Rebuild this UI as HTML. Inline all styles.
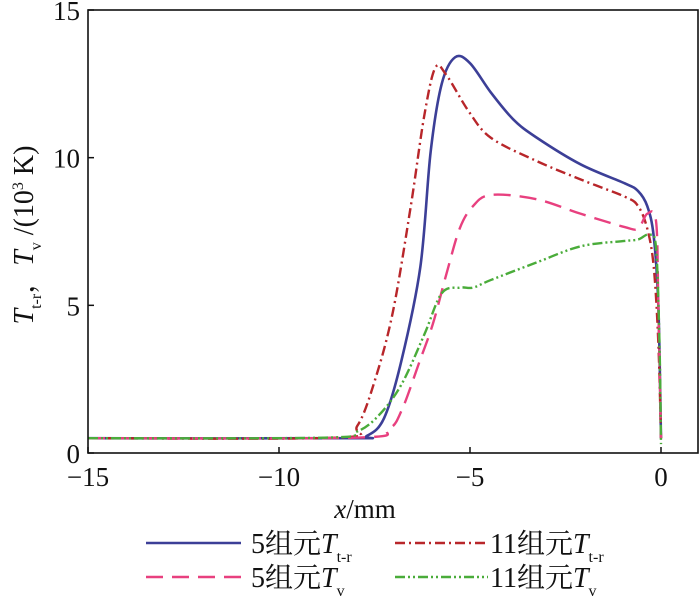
<!DOCTYPE html>
<html><head><meta charset="utf-8"><style>
body{margin:0;background:#fff;}
svg text{font-family:"Liberation Serif","Noto Serif CJK SC",serif;fill:#111;}
</style></head><body>
<svg id="chart" width="700" height="596" viewBox="0 0 700 596">
<g id="plot"></g>
<g id="axes"></g>
<g id="legend"></g>
</svg>
<script>
const xTicks=[-15,-10,-5,0];
const yTicks=[0,5,10,15];
const xTickLabels=["\u221215","\u221210","\u22125","0"];
const yTickLabels=["0","5","10","15"];
const blueX=[-15,-8.2,-7.7,-7.25,-6.8,-6.3,-6.03,-5.74,-5.39,-5.0,-4.45,-3.87,-3.28,-2.1,-0.95,-0.6,-0.36,-0.19,-0.07,0];
const blueY=[0.5,0.5,0.58,1.18,3.1,6.3,10.2,12.5,13.4,13.2,12.2,11.3,10.7,9.77,9.13,8.87,8.36,7.33,5.0,0.5];
const redX=[-15,-8.5,-7.95,-7.49,-7.02,-6.55,-6.2,-5.91,-5.62,-5.03,-4.45,-3.28,-2.1,-0.95,-0.6,-0.36,-0.19,-0.07,0];
const redY=[0.5,0.52,0.92,2.46,4.77,8.36,11.4,13.04,12.8,11.56,10.67,9.9,9.26,8.68,8.36,7.6,6.3,3.74,0.5];
const pinkX=[-15,-8.0,-7.14,-6.79,-6.32,-5.97,-5.62,-5.27,-4.92,-4.45,-3.28,-2.1,-0.95,-0.6,-0.36,-0.13,-0.07,0];
const pinkY=[0.5,0.52,0.8,1.44,3.1,4.38,6.05,7.6,8.36,8.74,8.6,8.1,7.65,7.6,8.1,7.85,5.0,0.5];
const greenX=[-15,-8.8,-7.95,-7.37,-6.79,-6.2,-5.74,-5.27,-4.92,-4.45,-3.28,-2.1,-0.95,-0.6,-0.3,-0.13,-0.04,0];
const greenY=[0.5,0.52,0.73,1.3,2.33,4.0,5.41,5.6,5.6,5.86,6.44,7.0,7.18,7.23,7.4,6.95,3.74,0.3];

const NS="http://www.w3.org/2000/svg";
const L=88,R=698,T=10,B=453;
const xs=v=>661+(v)*(661-88)/15;
const ys=v=>B-(v)*(B-T)/15;
function mk(tag,attrs,parent){const e=document.createElementNS(NS,tag);for(const k in attrs)e.setAttribute(k,attrs[k]);parent.appendChild(e);return e;}
const plot=document.getElementById('plot'),axes=document.getElementById('axes');
function pathD(X,Y){
 const p=X.map((x,i)=>[xs(x),ys(Y[i])]);
 let d="M"+p[0][0]+","+p[0][1];
 for(let i=0;i<p.length-1;i++){
  const p0=p[Math.max(i-1,0)],p1=p[i],p2=p[i+1],p3=p[Math.min(i+2,p.length-1)];
  const c1=[p1[0]+(p2[0]-p0[0])/6,p1[1]+(p2[1]-p0[1])/6];
  const c2=[p2[0]-(p3[0]-p1[0])/6,p2[1]-(p3[1]-p1[1])/6];
  d+=" C"+c1.join(",")+" "+c2.join(",")+" "+p2.join(",");
 }
 return d;
}
const series=[
 {name:'series-5-ttr',X:blueX,Y:blueY,c:'#3c3f97',da:'',w:2.6},
 {name:'series-11-ttr',X:redX,Y:redY,c:'#b8262a',da:'10,4,2,4',w:2.4},
 {name:'series-5-tv',X:pinkX,Y:pinkY,c:'#e8407f',da:'17,9',w:2.4},
 {name:'series-11-tv',X:greenX,Y:greenY,c:'#4aac3a',da:'10,3,2,3,2,3',w:2.4}
];
series.forEach(s=>{
 const e=mk('path',{d:pathD(s.X,s.Y),fill:'none',stroke:s.c,'stroke-width':s.w,'stroke-dasharray':s.da},plot);
 
 
});
const frame=mk('rect',{x:L,y:T,width:R-L,height:B-T,fill:'none',stroke:'#111','stroke-width':1.6},axes);


xTicks.forEach((v,i)=>{
 mk('line',{x1:xs(v),x2:xs(v),y1:B,y2:B-6,stroke:'#111','stroke-width':1.5},axes);
 const t=mk('text',{x:xs(v),y:B+33,'font-size':27,'text-anchor':'middle'},axes);t.textContent=xTickLabels[i];
 
 
});
yTicks.forEach((v,i)=>{
 mk('line',{x1:L,x2:L+6,y1:ys(v),y2:ys(v),stroke:'#111','stroke-width':1.5},axes);
 const t=mk('text',{x:L-8,y:ys(v)+10,'font-size':27,'text-anchor':'end'},axes);t.textContent=yTickLabels[i];
 
 
});
</script>
<svg style="position:absolute;left:0;top:0" width="700" height="596">
<text x="365" y="518" font-size="27" text-anchor="middle" font-family="Liberation Serif,serif"><tspan font-style="italic">x</tspan>/mm</text>
<text transform="translate(33,235) rotate(-90)" font-size="28" text-anchor="middle" font-family="Liberation Serif,serif"><tspan font-style="italic">T</tspan><tspan font-size="16" dy="8">t-r</tspan><tspan dy="-8">，</tspan><tspan font-style="italic">T</tspan><tspan font-size="16" dy="8">v</tspan><tspan dy="-8"> /(10</tspan><tspan font-size="16" dy="-10">3</tspan><tspan dy="10"> K)</tspan></text>
<g font-family="Liberation Serif,Noto Serif CJK SC,serif" font-size="28">
<g><line x1="146" x2="241" y1="543" y2="543" stroke="#3c3f97" stroke-width="2.6"/><text x="251" y="553"><tspan>5组元</tspan><tspan font-style="italic">T</tspan><tspan font-size="16" dy="9">t-r</tspan></text></g>
<g><line x1="395" x2="488" y1="543" y2="543" stroke="#b8262a" stroke-width="2.4" stroke-dasharray="10,4,2,4"/><text x="490" y="553"><tspan>11组元</tspan><tspan font-style="italic">T</tspan><tspan font-size="16" dy="9">t-r</tspan></text></g>
<g><line x1="146" x2="241" y1="577" y2="577" stroke="#e8407f" stroke-width="2.4" stroke-dasharray="17,9"/><text x="251" y="587"><tspan>5组元</tspan><tspan font-style="italic">T</tspan><tspan font-size="16" dy="9">v</tspan></text></g>
<g><line x1="395" x2="488" y1="577" y2="577" stroke="#4aac3a" stroke-width="2.4" stroke-dasharray="10,3,2,3,2,3"/><text x="490" y="587"><tspan>11组元</tspan><tspan font-style="italic">T</tspan><tspan font-size="16" dy="9">v</tspan></text></g>
</g>
</svg>
</body></html>
